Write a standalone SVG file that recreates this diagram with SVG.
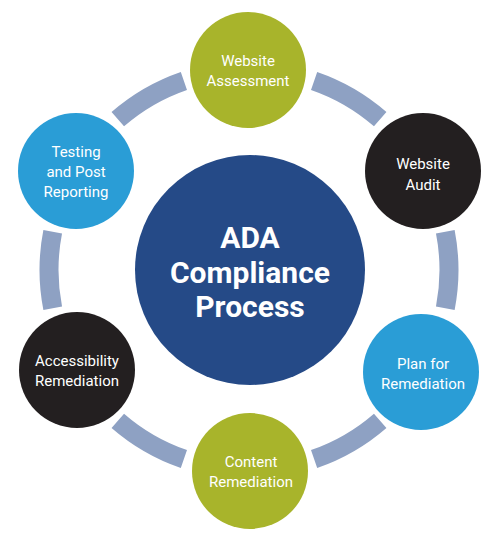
<svg xmlns="http://www.w3.org/2000/svg" width="500" height="545" viewBox="0 0 500 545">
  <style>
    .ring { fill: none; stroke: #8ea1c3; stroke-width: 19; stroke-linecap: butt; }
    .lbl { font-family: Roboto, "Liberation Sans", sans-serif; font-size: 15px; font-weight: 400; fill: #ffffff; text-anchor: middle; }
    .title { font-family: Roboto, "Liberation Sans", sans-serif; font-size: 30px; font-weight: 700; fill: #ffffff; text-anchor: middle; }
    .green { fill: #a8b42b; }
    .black { fill: #231f20; }
    .light { fill: #2a9dd6; }
  </style>
  <rect width="500" height="545" fill="#ffffff"/>
  <g id="connectors">
    <path class="ring" d="M314.1,80.9 A200,200 0 0 1 380.2,119.1"/>
    <path class="ring" d="M445.3,231.8 A200,200 0 0 1 445.3,308.2"/>
    <path class="ring" d="M380.2,420.9 A200,200 0 0 1 314.1,459.1"/>
    <path class="ring" d="M183.9,459.1 A200,200 0 0 1 117.8,420.9"/>
    <path class="ring" d="M52.7,308.2 A200,200 0 0 1 52.7,231.8"/>
    <path class="ring" d="M117.8,119.1 A200,200 0 0 1 183.9,80.9"/>
  </g>
  <g id="center">
    <circle cx="250" cy="270" r="115" fill="#254a87"/>
    <text class="title" x="250" y="248">ADA</text>
    <text class="title" x="250" y="283">Compliance</text>
    <text class="title" x="250" y="317">Process</text>
  </g>
  <g id="website-assessment">
    <circle class="green" cx="248" cy="70" r="58"/>
    <text class="lbl" x="248" y="66">Website</text>
    <text class="lbl" x="248" y="86">Assessment</text>
  </g>
  <g id="website-audit">
    <circle class="black" cx="423" cy="171" r="58"/>
    <text class="lbl" x="423" y="169">Website</text>
    <text class="lbl" x="423" y="190">Audit</text>
  </g>
  <g id="plan-for-remediation">
    <circle class="light" cx="421" cy="372" r="58"/>
    <text class="lbl" x="423" y="369">Plan for</text>
    <text class="lbl" x="423" y="389">Remediation</text>
  </g>
  <g id="content-remediation">
    <circle class="green" cx="250" cy="471" r="58"/>
    <text class="lbl" x="251" y="467">Content</text>
    <text class="lbl" x="251" y="487">Remediation</text>
  </g>
  <g id="accessibility-remediation">
    <circle class="black" cx="77" cy="370" r="58"/>
    <text class="lbl" x="77" y="366">Accessibility</text>
    <text class="lbl" x="77" y="386">Remediation</text>
  </g>
  <g id="testing-and-post-reporting">
    <circle class="light" cx="76" cy="171" r="58"/>
    <text class="lbl" x="76" y="157">Testing</text>
    <text class="lbl" x="76" y="177">and Post</text>
    <text class="lbl" x="76" y="197">Reporting</text>
  </g>
</svg>
